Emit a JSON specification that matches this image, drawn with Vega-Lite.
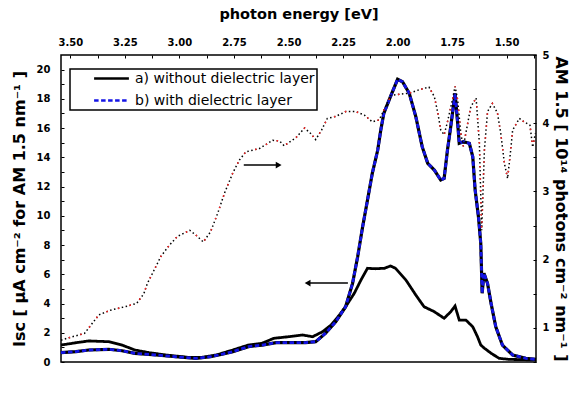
{
  "$schema": "https://vega.github.io/schema/vega-lite/v6.json",
  "width": 475,
  "height": 307,
  "autosize": {"type": "none"},
  "padding": {"left": 61, "top": 55, "right": 38, "bottom": 39},
  "config": {
    "font": "DejaVu Sans",
    "view": {"stroke": "black", "strokeWidth": 1.5},
    "legend": {"strokeColor": "black", "strokeWidth": 1.5},
    "axis": {
      "domain": false, "grid": false, "tickSize": -3, "tickColor": "black", "tickWidth": 1,
      "labelFont": "DejaVu Sans", "labelFontWeight": "bold", "labelFontSize": 10, "labelColor": "black",
      "titleFont": "DejaVu Sans", "titleFontWeight": "bold", "titleFontSize": 14.5, "titleColor": "black",
      "labelFlush": false, "labelOverlap": false
    }
  },
  "datasets": {
    "isc": [
      {"lam": 350, "v": 1.16, "series": "a) without dielectric layer"},
      {"lam": 357, "v": 1.32, "series": "a) without dielectric layer"},
      {"lam": 363, "v": 1.44, "series": "a) without dielectric layer"},
      {"lam": 373, "v": 1.39, "series": "a) without dielectric layer"},
      {"lam": 380, "v": 1.16, "series": "a) without dielectric layer"},
      {"lam": 387, "v": 0.82, "series": "a) without dielectric layer"},
      {"lam": 395, "v": 0.64, "series": "a) without dielectric layer"},
      {"lam": 405, "v": 0.48, "series": "a) without dielectric layer"},
      {"lam": 419, "v": 0.32, "series": "a) without dielectric layer"},
      {"lam": 428, "v": 0.32, "series": "a) without dielectric layer"},
      {"lam": 438, "v": 0.48, "series": "a) without dielectric layer"},
      {"lam": 450, "v": 0.82, "series": "a) without dielectric layer"},
      {"lam": 462, "v": 1.16, "series": "a) without dielectric layer"},
      {"lam": 473, "v": 1.28, "series": "a) without dielectric layer"},
      {"lam": 483, "v": 1.62, "series": "a) without dielectric layer"},
      {"lam": 496, "v": 1.73, "series": "a) without dielectric layer"},
      {"lam": 509, "v": 1.85, "series": "a) without dielectric layer"},
      {"lam": 519, "v": 1.73, "series": "a) without dielectric layer"},
      {"lam": 529, "v": 2.07, "series": "a) without dielectric layer"},
      {"lam": 538, "v": 2.53, "series": "a) without dielectric layer"},
      {"lam": 547, "v": 3.21, "series": "a) without dielectric layer"},
      {"lam": 554, "v": 3.78, "series": "a) without dielectric layer"},
      {"lam": 564, "v": 4.70, "series": "a) without dielectric layer"},
      {"lam": 572, "v": 5.61, "series": "a) without dielectric layer"},
      {"lam": 580, "v": 6.41, "series": "a) without dielectric layer"},
      {"lam": 590, "v": 6.38, "series": "a) without dielectric layer"},
      {"lam": 602, "v": 6.41, "series": "a) without dielectric layer"},
      {"lam": 610, "v": 6.57, "series": "a) without dielectric layer"},
      {"lam": 617, "v": 6.41, "series": "a) without dielectric layer"},
      {"lam": 632, "v": 5.61, "series": "a) without dielectric layer"},
      {"lam": 647, "v": 4.58, "series": "a) without dielectric layer"},
      {"lam": 660, "v": 3.78, "series": "a) without dielectric layer"},
      {"lam": 677, "v": 3.44, "series": "a) without dielectric layer"},
      {"lam": 694, "v": 2.99, "series": "a) without dielectric layer"},
      {"lam": 706, "v": 3.44, "series": "a) without dielectric layer"},
      {"lam": 714, "v": 3.83, "series": "a) without dielectric layer"},
      {"lam": 722, "v": 2.87, "series": "a) without dielectric layer"},
      {"lam": 735, "v": 2.87, "series": "a) without dielectric layer"},
      {"lam": 749, "v": 2.41, "series": "a) without dielectric layer"},
      {"lam": 759, "v": 1.73, "series": "a) without dielectric layer"},
      {"lam": 766, "v": 1.16, "series": "a) without dielectric layer"},
      {"lam": 774, "v": 0.94, "series": "a) without dielectric layer"},
      {"lam": 789, "v": 0.60, "series": "a) without dielectric layer"},
      {"lam": 808, "v": 0.25, "series": "a) without dielectric layer"},
      {"lam": 833, "v": 0.18, "series": "a) without dielectric layer"},
      {"lam": 908, "v": 0.14, "series": "a) without dielectric layer"},
      {"lam": 350, "v": 0.64, "series": "b) with dielectric layer"},
      {"lam": 357, "v": 0.71, "series": "b) with dielectric layer"},
      {"lam": 363, "v": 0.82, "series": "b) with dielectric layer"},
      {"lam": 373, "v": 0.87, "series": "b) with dielectric layer"},
      {"lam": 380, "v": 0.77, "series": "b) with dielectric layer"},
      {"lam": 387, "v": 0.59, "series": "b) with dielectric layer"},
      {"lam": 399, "v": 0.48, "series": "b) with dielectric layer"},
      {"lam": 411, "v": 0.36, "series": "b) with dielectric layer"},
      {"lam": 424, "v": 0.25, "series": "b) with dielectric layer"},
      {"lam": 434, "v": 0.36, "series": "b) with dielectric layer"},
      {"lam": 443, "v": 0.55, "series": "b) with dielectric layer"},
      {"lam": 450, "v": 0.71, "series": "b) with dielectric layer"},
      {"lam": 462, "v": 1.05, "series": "b) with dielectric layer"},
      {"lam": 473, "v": 1.16, "series": "b) with dielectric layer"},
      {"lam": 485, "v": 1.32, "series": "b) with dielectric layer"},
      {"lam": 496, "v": 1.32, "series": "b) with dielectric layer"},
      {"lam": 512, "v": 1.32, "series": "b) with dielectric layer"},
      {"lam": 522, "v": 1.39, "series": "b) with dielectric layer"},
      {"lam": 532, "v": 1.96, "series": "b) with dielectric layer"},
      {"lam": 543, "v": 2.76, "series": "b) with dielectric layer"},
      {"lam": 554, "v": 3.78, "series": "b) with dielectric layer"},
      {"lam": 562, "v": 5.38, "series": "b) with dielectric layer"},
      {"lam": 568, "v": 7.20, "series": "b) with dielectric layer"},
      {"lam": 574, "v": 9.25, "series": "b) with dielectric layer"},
      {"lam": 580, "v": 11.08, "series": "b) with dielectric layer"},
      {"lam": 586, "v": 12.9, "series": "b) with dielectric layer"},
      {"lam": 593, "v": 14.5, "series": "b) with dielectric layer"},
      {"lam": 597, "v": 15.87, "series": "b) with dielectric layer"},
      {"lam": 601, "v": 17.0, "series": "b) with dielectric layer"},
      {"lam": 610, "v": 18.15, "series": "b) with dielectric layer"},
      {"lam": 620, "v": 19.34, "series": "b) with dielectric layer"},
      {"lam": 627, "v": 19.17, "series": "b) with dielectric layer"},
      {"lam": 637, "v": 18.38, "series": "b) with dielectric layer"},
      {"lam": 647, "v": 16.78, "series": "b) with dielectric layer"},
      {"lam": 657, "v": 14.73, "series": "b) with dielectric layer"},
      {"lam": 666, "v": 13.59, "series": "b) with dielectric layer"},
      {"lam": 677, "v": 13.13, "series": "b) with dielectric layer"},
      {"lam": 688, "v": 12.45, "series": "b) with dielectric layer"},
      {"lam": 694, "v": 12.56, "series": "b) with dielectric layer"},
      {"lam": 700, "v": 14.50, "series": "b) with dielectric layer"},
      {"lam": 706, "v": 16.10, "series": "b) with dielectric layer"},
      {"lam": 714, "v": 18.38, "series": "b) with dielectric layer"},
      {"lam": 719, "v": 16.33, "series": "b) with dielectric layer"},
      {"lam": 722, "v": 14.96, "series": "b) with dielectric layer"},
      {"lam": 730, "v": 15.07, "series": "b) with dielectric layer"},
      {"lam": 742, "v": 14.96, "series": "b) with dielectric layer"},
      {"lam": 749, "v": 14.04, "series": "b) with dielectric layer"},
      {"lam": 754, "v": 11.76, "series": "b) with dielectric layer"},
      {"lam": 761, "v": 9.94, "series": "b) with dielectric layer"},
      {"lam": 766, "v": 8.12, "series": "b) with dielectric layer"},
      {"lam": 769, "v": 4.70, "series": "b) with dielectric layer"},
      {"lam": 773, "v": 6.07, "series": "b) with dielectric layer"},
      {"lam": 781, "v": 5.38, "series": "b) with dielectric layer"},
      {"lam": 789, "v": 4.01, "series": "b) with dielectric layer"},
      {"lam": 800, "v": 2.41, "series": "b) with dielectric layer"},
      {"lam": 816, "v": 1.16, "series": "b) with dielectric layer"},
      {"lam": 842, "v": 0.48, "series": "b) with dielectric layer"},
      {"lam": 878, "v": 0.25, "series": "b) with dielectric layer"},
      {"lam": 908, "v": 0.18, "series": "b) with dielectric layer"}
    ],
    "am": [
      {"lam": 350, "am": 0.82}, {"lam": 353, "am": 0.85}, {"lam": 361, "am": 0.92}, {"lam": 368, "am": 1.19},
      {"lam": 374, "am": 1.26}, {"lam": 383, "am": 1.32}, {"lam": 388, "am": 1.36}, {"lam": 392, "am": 1.50},
      {"lam": 394, "am": 1.65}, {"lam": 398, "am": 1.85}, {"lam": 402, "am": 2.05}, {"lam": 407, "am": 2.21},
      {"lam": 412, "am": 2.34}, {"lam": 420, "am": 2.43}, {"lam": 424, "am": 2.36}, {"lam": 429, "am": 2.26},
      {"lam": 434, "am": 2.41}, {"lam": 439, "am": 2.68}, {"lam": 444, "am": 2.98}, {"lam": 450, "am": 3.27},
      {"lam": 455, "am": 3.46}, {"lam": 460, "am": 3.58}, {"lam": 471, "am": 3.63}, {"lam": 482, "am": 3.75},
      {"lam": 488, "am": 3.74}, {"lam": 492, "am": 3.67}, {"lam": 503, "am": 3.79}, {"lam": 511, "am": 3.93},
      {"lam": 517, "am": 3.85}, {"lam": 522, "am": 3.76}, {"lam": 528, "am": 3.90}, {"lam": 534, "am": 4.07},
      {"lam": 543, "am": 4.10}, {"lam": 554, "am": 4.17}, {"lam": 566, "am": 4.17}, {"lam": 576, "am": 4.12},
      {"lam": 586, "am": 4.02}, {"lam": 595, "am": 4.05}, {"lam": 601, "am": 4.19}, {"lam": 611, "am": 4.41},
      {"lam": 637, "am": 4.44}, {"lam": 652, "am": 4.49}, {"lam": 668, "am": 4.53}, {"lam": 677, "am": 4.39},
      {"lam": 683, "am": 4.15}, {"lam": 688, "am": 3.90}, {"lam": 694, "am": 3.83}, {"lam": 700, "am": 4.02},
      {"lam": 709, "am": 4.34}, {"lam": 714, "am": 4.54}, {"lam": 719, "am": 4.34}, {"lam": 725, "am": 3.85},
      {"lam": 730, "am": 3.66}, {"lam": 745, "am": 4.24}, {"lam": 756, "am": 4.37}, {"lam": 763, "am": 3.71},
      {"lam": 768, "am": 2.43}, {"lam": 774, "am": 3.61}, {"lam": 781, "am": 4.17}, {"lam": 792, "am": 4.29},
      {"lam": 804, "am": 4.15}, {"lam": 812, "am": 3.85}, {"lam": 821, "am": 3.41}, {"lam": 829, "am": 3.19},
      {"lam": 837, "am": 3.61}, {"lam": 842, "am": 3.90}, {"lam": 860, "am": 4.07}, {"lam": 873, "am": 4.02},
      {"lam": 890, "am": 3.97}, {"lam": 898, "am": 3.65}, {"lam": 906, "am": 3.85}
    ],
    "arrows": [
      {"lam": 458.4, "tip": 487.2, "v": 13.47, "dir": "right"},
      {"lam": 556.6, "tip": 514.0, "v": 5.40, "dir": "left"}
    ]
  },
  "layer": [
    {
      "encoding": {
        "x": {
          "field": "lam", "type": "quantitative",
          "scale": {"type": "pow", "exponent": -1, "domain": [350, 908], "nice": false, "zero": false},
          "axis": {
            "orient": "bottom", "title": "wavelength [nm]",
            "values": [400, 450, 500, 550, 600, 650, 700, 750, 800, 850, 900],
            "labelExpr": "datum.value % 100 === 0 ? datum.label : ''",
            "labelPadding": 11,
            "titleX": 237.5, "titleY": 30, "titleAlign": "center", "titleBaseline": "middle"
          }
        },
        "y": {
          "field": "v", "type": "quantitative",
          "scale": {"domain": [0, 21], "nice": false, "zero": true},
          "axis": {
            "orient": "left", "title": "Isc [ µA cm⁻² for AM 1.5 nm⁻¹ ]",
            "values": [0,1,2,3,4,5,6,7,8,9,10,11,12,13,14,15,16,17,18,19,20],
            "labelExpr": "datum.value % 2 === 0 ? datum.label : ''",
            "labelPadding": 14,
            "titleFontSize": 16,
            "titleX": -42, "titleY": 153.5, "titleAngle": -90, "titleAlign": "center", "titleBaseline": "middle"
          }
        }
      },
      "layer": [
        {
          "data": {"name": "isc"},
          "transform": [{"filter": "datum.series === 'b) with dielectric layer'"}],
          "mark": {"type": "line", "color": "black", "strokeWidth": 3.2}
        },
        {
          "data": {"name": "isc"},
          "mark": {"type": "line", "strokeWidth": 2.8},
          "encoding": {
            "color": {
              "field": "series", "type": "nominal",
              "scale": {"domain": ["a) without dielectric layer", "b) with dielectric layer"], "range": ["black", "#1414e6"]},
              "legend": {
                "title": null, "orient": "none", "legendX": 9, "legendY": 14, "padding": 2,
                "symbolType": "M-2.9,0H2.9", "symbolSize": 144, "symbolStrokeWidth": 2.5,
                "symbolOffset": 32, "labelOffset": 16, "rowPadding": 7, "labelLimit": 400,
                "labelFont": "DejaVu Sans", "labelFontSize": 14, "labelColor": "black"
              }
            },
            "strokeDash": {
              "field": "series", "type": "nominal",
              "scale": {"domain": ["a) without dielectric layer", "b) with dielectric layer"], "range": [[1, 0], [4.5, 2.5]]},
              "legend": {
                "title": null, "orient": "none", "legendX": 9, "legendY": 14, "padding": 2,
                "symbolType": "M-2.9,0H2.9", "symbolSize": 144, "symbolStrokeWidth": 2.5,
                "symbolOffset": 32, "labelOffset": 16, "rowPadding": 7, "labelLimit": 400,
                "labelFont": "DejaVu Sans", "labelFontSize": 14, "labelColor": "black"
              }
            }
          }
        },
        {
          "data": {"name": "arrows"},
          "mark": {"type": "rule", "color": "black", "strokeWidth": 1.5},
          "encoding": {"x2": {"field": "tip"}}
        },
        {
          "data": {"name": "arrows"},
          "mark": {"type": "point", "filled": true, "color": "black", "size": 45, "opacity": 1},
          "encoding": {
            "x": {"field": "tip", "type": "quantitative", "axis": null},
            "shape": {"field": "dir", "type": "nominal", "scale": {"domain": ["right", "left"], "range": ["triangle-right", "triangle-left"]}, "legend": null}
          }
        }
      ]
    },
    {
      "data": {"name": "am"},
      "encoding": {
        "x": {
          "field": "lam", "type": "quantitative",
          "scale": {"type": "pow", "exponent": -1, "domain": [350, 908], "nice": false, "zero": false},
          "axis": {
            "orient": "top", "title": "photon energy [eV]",
            "values": [354.2857, 367.4074, 381.5385, 396.8, 413.3333, 431.3043, 450.9091, 472.381, 496, 522.1053, 551.1111, 583.5294, 620, 661.3333, 708.5714, 763.0769, 826.6667, 901.8182],
            "labelExpr": "round(124000 / datum.value) % 25 === 0 ? format(1240 / datum.value, '.2f') : ''",
            "labelPadding": 11,
            "titleX": 237.5, "titleY": -41, "titleAlign": "center", "titleBaseline": "middle"
          }
        },
        "y": {
          "field": "am", "type": "quantitative",
          "scale": {"domain": [0.5, 5], "nice": false, "zero": false},
          "axis": {
            "orient": "right", "title": "AM 1.5 [ 10¹⁴ photons cm⁻² nm⁻¹ ]",
            "values": [0.5, 1, 1.5, 2, 2.5, 3, 3.5, 4, 4.5, 5],
            "labelExpr": "datum.value % 1 === 0 ? format(datum.value, 'd') : ''",
            "labelPadding": 9,
            "titleFontSize": 16,
            "titleX": 24, "titleY": 153.5, "titleAngle": 90, "titleAlign": "center", "titleBaseline": "middle"
          }
        }
      },
      "layer": [
        {"mark": {"type": "line", "color": "black", "strokeWidth": 1.5, "strokeDash": [1.5, 2.5]}},
        {"mark": {"type": "line", "color": "#ff2020", "strokeWidth": 1.5, "strokeDash": [1.5, 10.5], "strokeDashOffset": 4}}
      ]
    }
  ],
  "resolve": {"scale": {"y": "independent"}, "axis": {"x": "independent", "y": "independent"}}
}
